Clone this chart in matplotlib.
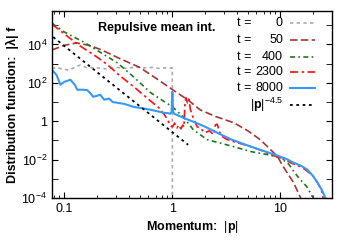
import matplotlib
matplotlib.use("Agg")
import matplotlib.pyplot as plt
import matplotlib.ticker as mticker
import numpy as np

plt.rcParams["font.family"] = ["Liberation Sans", "DejaVu Sans"]
plt.rcParams["mathtext.fontset"] = "custom"
plt.rcParams["mathtext.rm"] = "Liberation Sans"
plt.rcParams["mathtext.it"] = "Liberation Sans:italic"
plt.rcParams["mathtext.bf"] = "Liberation Sans:bold"

# data (p, log10 f)
p_t0 = [0.077, 0.085, 0.095, 0.11, 0.13, 0.14, 0.16, 0.2, 0.25, 0.3, 0.38, 0.45,
        0.55, 0.65, 0.75, 0.85, 0.95, 0.999, 1.0]
lf_t0 = [2.75, 2.8, 2.72, 2.66, 2.85, 2.92, 2.8, 2.78, 2.72, 2.8, 2.75, 2.82,
         2.78, 2.8, 2.75, 2.78, 2.76, 2.78, -5.0]

p_t50 = [0.077, 0.1, 0.13, 0.17, 0.22, 0.33, 0.5, 0.7, 1.0, 1.4, 1.8, 2.5, 3.7,
         5.0, 6.5, 8.0, 9.4, 10.6, 13.2, 15.3, 16.0]
lf_t50 = [3.71, 3.95, 4.08, 3.95, 3.72, 3.25, 2.8, 2.25, 1.65, 1.1, 0.6, 0.25,
          -0.08, -0.5, -0.96, -1.45, -1.84, -2.36, -3.19, -3.97, -4.3]

p_t400 = [0.077, 0.1, 0.15, 0.2, 0.31, 0.45, 0.625, 0.8, 1.0, 1.26, 1.56, 2.1,
          2.6, 3.67, 5.3, 7.6, 10.0, 12.0, 13.2, 15.0, 17.5, 20.0, 21.0]
lf_t400 = [5.1, 4.65, 4.13, 3.7, 3.04, 2.25, 1.5, 1.1, 0.75, 0.23, -0.44, -0.96,
           -1.1, -1.32, -1.58, -1.74, -1.9, -2.25, -2.6, -3.0, -3.4, -3.97, -4.2]

p_t2300 = [0.077, 0.1, 0.14, 0.2, 0.25, 0.33, 0.45, 0.6, 0.75, 0.83, 0.9, 0.95,
           1.0, 1.05, 1.1, 1.15, 1.2, 1.25, 1.28, 1.31, 1.34, 1.38, 1.42, 1.47,
           1.56, 1.7, 1.8, 2.0, 2.2, 2.4, 2.5, 2.6, 2.8, 3.2, 3.67, 4.5, 5.3,
           6.5, 8.6, 10.5, 12.4, 15.0, 17.0, 20.0, 22.0, 24.0, 25.0]
lf_t2300 = [5.05, 4.55, 3.92, 3.35, 2.95, 2.35, 1.75, 1.15, 0.7, 0.4, 0.1, -0.2,
            -0.3, -0.1, -0.35, -0.2, -0.4, -0.2, -0.3, 1.0, 1.22, 0.95, 1.15, 0.6,
            0.18, -0.3, -0.34, -0.6, -0.5, -0.7, -0.2, -0.15, -0.75, -0.95, -1.06,
            -1.2, -1.32, -1.5, -1.79, -1.95, -2.16, -2.35, -2.52, -2.85, -3.19,
            -3.6, -4.1]

p_t8000 = [0.077, 0.085, 0.092, 0.1, 0.114, 0.125, 0.132, 0.15, 0.163, 0.175,
           0.185, 0.2, 0.215, 0.234, 0.26, 0.28, 0.31, 0.36, 0.435, 0.52, 0.625,
           0.72, 0.83, 0.9, 0.96, 0.985, 1.0, 1.015, 1.04, 1.1, 1.26, 1.6, 2.0,
           2.6, 3.5, 5.3, 7.0, 9.4, 11.5, 13.2, 15.5, 17.7, 20.0, 22.0, 24.0,
           26.0, 27.0]
lf_t8000 = [2.68, 2.4, 1.9, 2.05, 2.16, 1.9, 1.64, 1.64, 1.62, 1.45, 1.27, 1.32,
            1.38, 1.12, 1.18, 1.0, 0.96, 0.9, 0.75, 0.68, 0.6, 0.52, 0.44, 0.42,
            0.39, 0.5, 1.53, 0.5, 0.39, 0.33, 0.18, -0.05, -0.28, -0.6, -0.95,
            -1.32, -1.55, -1.79, -1.98, -2.16, -2.32, -2.52, -2.85, -3.19, -3.55,
            -3.97, -4.3]

# reference power law |p|^-4.5, two end points
p_ref = [0.079, 1.4]
f_ref = [2.4e4, 0.059]

series = [
    ("0", p_t0, lf_t0, "#aaaaaa", (0, (2, 2))),
    ("50", p_t50, lf_t50, "#a83535", (0, (4.5, 2))),
    ("400", p_t400, lf_t400, "#1a7a1a", (0, (3, 2, 1, 2))),
    ("2300", p_t2300, lf_t2300, "#ff1010", (0, (5, 2, 1.5, 2))),
    ("8000", p_t8000, lf_t8000, "#3399ff", "-"),
]

fig = plt.figure(figsize=(3.49, 2.44), dpi=100)
ax = fig.add_axes([52 / 349, 1 - 198 / 244, 280 / 349, 187 / 244])

for label, p, lf, col, ls in series:
    lw = 1.5 if ls == "-" else 1.2
    ax.plot(p, 10 ** np.array(lf), color=col, ls=ls, lw=lw)
ax.plot(p_ref, f_ref, color="black", ls=(0, (1.5, 2)), lw=1.3)

ax.set_xscale("log")
ax.set_yscale("log")
ax.set_xlim(0.077, 30)
ax.set_ylim(1e-4, 5.5e5)

ax.yaxis.set_major_locator(mticker.FixedLocator([1e-4, 1e-2, 1, 1e2, 1e4]))
ax.yaxis.set_minor_locator(mticker.FixedLocator([1e-3, 1e-1, 10, 1e3, 1e5]))
ax.yaxis.set_major_formatter(mticker.FuncFormatter(
    lambda v, pos: "1" if abs(v - 1) < 1e-9 else r"$10^{%d}$" % round(np.log10(v))))
ax.yaxis.set_minor_formatter(mticker.NullFormatter())
ax.xaxis.set_major_locator(mticker.FixedLocator([0.1, 1, 10]))
ax.xaxis.set_major_formatter(mticker.FixedFormatter(["0.1", "1", "10"]))
ax.xaxis.set_minor_locator(mticker.LogLocator(base=10, subs=np.arange(2, 10)))
ax.xaxis.set_minor_formatter(mticker.NullFormatter())

ax.tick_params(which="both", direction="in", top=True, right=True, labelsize=9)
ax.tick_params(which="major", length=4, width=0.8)
ax.tick_params(which="minor", length=2.5, width=0.6)
ax.tick_params(axis="y", which="minor", length=4)
for s in ax.spines.values():
    s.set_linewidth(1.0)

ax.set_xlabel(r"Momentum:  $|\mathbf{p}|$", fontsize=9, fontweight="bold", labelpad=3)
ax.set_ylabel("Distribution function:  |λ| f", fontsize=9, fontweight="bold", labelpad=2)

ax.text(0.375, 0.91, "Repulsive mean int.", transform=ax.transAxes,
        ha="center", va="center", fontsize=9, fontweight="bold")

# gnuplot style key
rows = [0.936, 0.845, 0.754, 0.674, 0.588]
for (label, p, lf, col, ls), yk in zip(series, rows):
    ax.text(0.661, yk, "t =", transform=ax.transAxes, ha="left", va="center", fontsize=9)
    ax.text(0.825, yk, label, transform=ax.transAxes, ha="right", va="center", fontsize=9)
    lw = 1.5 if ls == "-" else 1.2
    ax.plot([0.85, 0.94], [yk, yk], transform=ax.transAxes, color=col, ls=ls, lw=lw)
ax.text(0.825, 0.50, r"$|\mathbf{p}|^{-4.5}$", transform=ax.transAxes,
        ha="right", va="center", fontsize=9)
ax.plot([0.85, 0.94], [0.50, 0.50], transform=ax.transAxes, color="black",
        ls=(0, (1.5, 2)), lw=1.3)

fig.savefig("out.png", dpi=100)
